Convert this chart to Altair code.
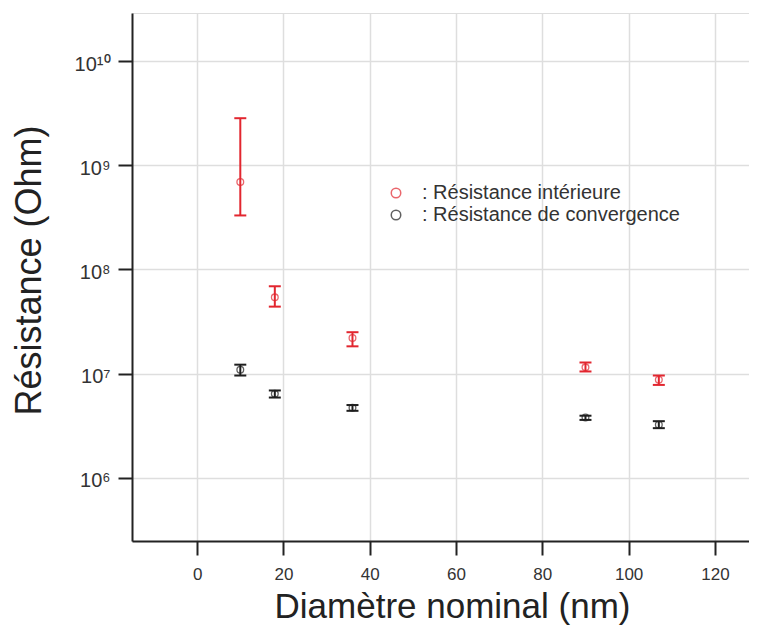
import altair as alt
import pandas as pd

# ---- data ----
diam = [10, 18, 36, 90, 107]

r_int = [6.9e8, 5.4e7, 2.2e7, 1.15e7, 8.75e6]
r_int_lo = [3.3e8, 4.4e7, 1.83e7, 1.05e7, 7.8e6]
r_int_hi = [2.83e9, 6.9e7, 2.5e7, 1.28e7, 9.6e6]

r_conv = [1.09e7, 6.4e6, 4.7e6, 3.8e6, 3.24e6]
r_conv_lo = [9.6e6, 5.9e6, 4.4e6, 3.6e6, 3.0e6]
r_conv_hi = [1.22e7, 6.9e6, 5.0e6, 3.95e6, 3.5e6]

series_names = ["Résistance intérieure", "Résistance de convergence"]
series_colors = ["#e2262f", "#1e1e1e"]

x_ticks = [0, 20, 40, 60, 80, 100, 120]
y_ticks = [1e6, 1e7, 1e8, 1e9, 1e10]
y_tick_labels = ["10⁶", "10⁷", "10⁸", "10⁹", "10¹⁰"]

rows = []
for name, mid, lo, hi in [
    (series_names[0], r_int, r_int_lo, r_int_hi),
    (series_names[1], r_conv, r_conv_lo, r_conv_hi),
]:
    for d, m, l, h in zip(diam, mid, lo, hi):
        rows.append({"series": name, "d": d, "r": m, "lo": l, "hi": h})
df = pd.DataFrame(rows)

# label expression for superscript powers
expr = "''"
for v, lab in zip(reversed(y_ticks), reversed(y_tick_labels)):
    expr = f"(abs(datum.value - {v:.0f}) < {v*0.01:.0f}) ? '{lab}' : {expr}"

FONT = "Liberation Sans"

x_axis = alt.Axis(
    values=x_ticks, title="Diamètre nominal (nm)",
    titleFontSize=35, titleFont=FONT, titleFontWeight="normal", titleColor="#222",
    titleX=320, titleY=76, titleBaseline="alphabetic", titleAlign="center",
    labelFontSize=17, labelFont=FONT, labelColor="#333", labelPadding=11,
    labelFlush=False,
    tickSize=14, tickWidth=2, tickColor="#222",
    domainColor="#222", domainWidth=2,
    grid=True, gridColor="#dedede", gridWidth=1.5,
)
y_axis = alt.Axis(
    values=y_ticks, labelExpr=expr, title="Résistance (Ohm)",
    titleFontSize=36, titleFont=FONT, titleFontWeight="normal", titleColor="#222",
    titleX=-92, titleY=257, titleAngle=270, titleBaseline="alphabetic", titleAlign="center",
    labelFontSize=20, labelFont=FONT, labelColor="#333", labelPadding=8,
    labelOffset=3, labelFlush=False,
    tickSize=14, tickWidth=2, tickColor="#222",
    domainColor="#222", domainWidth=2,
    grid=True, gridColor="#dedede", gridWidth=1.5,
)

x_scale = alt.Scale(domain=[-15.1, 127.9], nice=False, zero=False)
y_scale = alt.Scale(type="log", domain=[2.478e5, 2.894e10], nice=False)
color_scale = alt.Scale(domain=series_names, range=series_colors)

legend = alt.Legend(
    title=None, orient="none", legendX=254, legendY=170,
    labelExpr="': ' + datum.label",
    labelFontSize=20, labelFont=FONT, labelColor="#333", labelLimit=500,
    symbolType="circle", symbolSize=90, symbolStrokeWidth=1.5,
    symbolFillColor="transparent",
    rowPadding=2, labelOffset=16, padding=0,
)
C_leg = alt.Color("series:N", scale=color_scale, legend=legend)
C = alt.Color("series:N", scale=color_scale, legend=None)
X = alt.X("d:Q", scale=x_scale, axis=x_axis)
X2 = alt.X2("d")

base = alt.Chart(df)

pts = base.mark_point(shape="circle", filled=False, size=45, strokeWidth=1.3).encode(
    x=X,
    y=alt.Y("r:Q", scale=y_scale, axis=y_axis),
    color=C_leg,
)
rule = base.mark_rule(strokeWidth=2).encode(
    x=X,
    y=alt.Y("lo:Q", scale=y_scale, axis=y_axis),
    y2="hi:Q",
    color=C,
)
cap_lo = base.mark_rule(strokeWidth=2, xOffset=-6, x2Offset=6).encode(
    x=X, x2=X2,
    y=alt.Y("lo:Q", scale=y_scale, axis=y_axis),
    color=C,
)
cap_hi = base.mark_rule(strokeWidth=2, xOffset=-6, x2Offset=6).encode(
    x=X, x2=X2,
    y=alt.Y("hi:Q", scale=y_scale, axis=y_axis),
    color=C,
)

chart = (
    alt.layer(pts, rule, cap_lo, cap_hi)
    .properties(
        width=617, height=528,
        autosize=alt.AutoSizeParams(type="none"),
        padding={"left": 124, "top": 5, "right": 0, "bottom": 84},
    )
    .configure_view(stroke=None)
    .configure(background="white")
)

chart.save("out.html", embed_options={"renderer": "svg", "actions": False})
